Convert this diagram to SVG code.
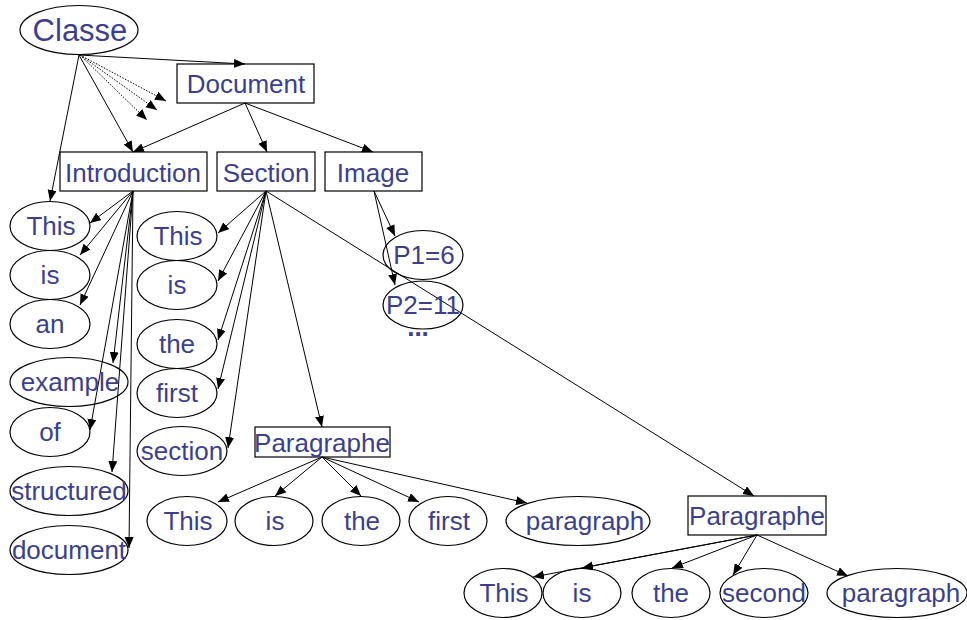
<svg xmlns="http://www.w3.org/2000/svg" width="967" height="620" viewBox="0 0 967 620">
<style>
.n ellipse, .n rect { fill: none; stroke: #000; stroke-width: 1.2; }
.n text { font-family: "Liberation Sans", Arial, sans-serif; font-size: 26px; fill: #3b3f8f; text-anchor: middle; }
#edges line { stroke: #000; stroke-width: 1; marker-end: url(#ah); }
#edges line.dot { stroke-dasharray: 1.5 1.5; }
</style>
<defs>
<marker id="ah" markerUnits="userSpaceOnUse" markerWidth="12" markerHeight="10" refX="11" refY="4.5" orient="auto">
<path d="M0,0 L11,4.5 L0,9 z" fill="#000"/>
</marker>
</defs>
<rect width="967" height="620" fill="#fff"/>
<g id="edges">
<line x1="79" y1="55" x2="245" y2="64"/>
<line x1="79" y1="55" x2="133" y2="152"/>
<line x1="79" y1="55" x2="50" y2="201"/>
<line class="dot" x1="80" y1="55" x2="166" y2="101"/>
<line class="dot" x1="80" y1="55" x2="157" y2="110"/>
<line class="dot" x1="80" y1="55" x2="147" y2="120"/>
<line x1="245" y1="103" x2="133" y2="152"/>
<line x1="245" y1="103" x2="267" y2="152"/>
<line x1="245" y1="103" x2="373" y2="152"/>
<line x1="133" y1="191" x2="90" y2="223"/>
<line x1="133" y1="191" x2="80" y2="255"/>
<line x1="133" y1="191" x2="80" y2="305"/>
<line x1="133" y1="191" x2="113" y2="363"/>
<line x1="133" y1="191" x2="90" y2="430"/>
<line x1="133" y1="191" x2="112" y2="472"/>
<line x1="133" y1="191" x2="129" y2="548"/>
<line x1="266" y1="191" x2="218" y2="233"/>
<line x1="266" y1="191" x2="218" y2="281"/>
<line x1="266" y1="191" x2="218" y2="340"/>
<line x1="266" y1="191" x2="218" y2="389"/>
<line x1="266" y1="191" x2="228" y2="448"/>
<line x1="266" y1="191" x2="322" y2="427"/>
<line x1="266" y1="191" x2="754" y2="496"/>
<line x1="374" y1="191" x2="395" y2="236"/>
<line x1="374" y1="191" x2="395" y2="285"/>
<line x1="322" y1="457" x2="218" y2="502"/>
<line x1="322" y1="457" x2="275" y2="496"/>
<line x1="322" y1="457" x2="361" y2="496"/>
<line x1="322" y1="457" x2="419" y2="502"/>
<line x1="322" y1="457" x2="527" y2="503"/>
<line x1="757" y1="535" x2="533" y2="577"/>
<line x1="757" y1="535" x2="582" y2="568"/>
<line x1="757" y1="535" x2="672" y2="568"/>
<line x1="757" y1="535" x2="733" y2="575"/>
<line x1="757" y1="535" x2="848" y2="576"/>
</g>
<g id="classe" class="n"><ellipse cx="79" cy="30" rx="59" ry="24.5"/><text x="80" y="41" style="font-size:31px">Classe</text></g>
<g id="document" class="n"><rect x="177" y="64" width="137" height="39"/><text x="246" y="93">Document</text></g>
<g id="introduction" class="n"><rect x="60" y="152" width="147" height="39"/><text x="133" y="182">Introduction</text></g>
<g id="section" class="n"><rect x="217" y="152" width="98" height="39"/><text x="266" y="182">Section</text></g>
<g id="image" class="n"><rect x="325" y="152" width="97" height="39"/><text x="373" y="182">Image</text></g>

<g id="i-this" class="n"><ellipse cx="50" cy="226" rx="40" ry="24.5"/><text x="51" y="235">This</text></g>
<g id="i-is" class="n"><ellipse cx="50" cy="275" rx="40" ry="24.5"/><text x="50" y="284">is</text></g>
<g id="i-an" class="n"><ellipse cx="50" cy="324" rx="40" ry="24.5"/><text x="50" y="333">an</text></g>
<g id="i-example" class="n"><ellipse cx="69" cy="382" rx="59" ry="24.5"/><text x="70" y="391">example</text></g>
<g id="i-of" class="n"><ellipse cx="50" cy="432" rx="40" ry="24.5"/><text x="50" y="441">of</text></g>
<g id="i-structured" class="n"><ellipse cx="69" cy="491" rx="59" ry="24.5"/><text x="69" y="500">structured</text></g>
<g id="i-document" class="n"><ellipse cx="69" cy="550" rx="59" ry="24.5"/><text x="69" y="559">document</text></g>

<g id="s-this" class="n"><ellipse cx="177" cy="236" rx="40" ry="24.5"/><text x="178" y="245">This</text></g>
<g id="s-is" class="n"><ellipse cx="177" cy="285" rx="40" ry="24.5"/><text x="177" y="294">is</text></g>
<g id="s-the" class="n"><ellipse cx="177" cy="344" rx="40" ry="24.5"/><text x="177" y="353">the</text></g>
<g id="s-first" class="n"><ellipse cx="177" cy="393" rx="40" ry="24.5"/><text x="177" y="402">first</text></g>
<g id="s-section" class="n"><ellipse cx="182" cy="451" rx="45" ry="24.5"/><text x="182" y="460">section</text></g>

<g id="p1" class="n"><ellipse cx="423" cy="255" rx="40" ry="24.5"/><text x="424" y="264">P1=6</text></g>
<g id="p2" class="n"><ellipse cx="423" cy="305" rx="40" ry="24"/><text x="423" y="314">P2=11</text></g>
<g id="more" class="n"><text x="418" y="336" style="font-weight:bold">...</text></g>

<g id="paragraphe1" class="n"><rect x="255" y="427" width="135" height="30"/><text x="322" y="452">Paragraphe</text></g>
<g id="p1-this" class="n"><ellipse cx="187" cy="521" rx="40" ry="24.5"/><text x="188" y="530">This</text></g>
<g id="p1-is" class="n"><ellipse cx="274" cy="521" rx="39" ry="24.5"/><text x="275" y="530">is</text></g>
<g id="p1-the" class="n"><ellipse cx="361" cy="521" rx="39" ry="24.5"/><text x="362" y="530">the</text></g>
<g id="p1-first" class="n"><ellipse cx="448" cy="521" rx="39" ry="24.5"/><text x="449" y="530">first</text></g>
<g id="p1-paragraph" class="n"><ellipse cx="578" cy="521" rx="72" ry="24.5"/><text x="585" y="530">paragraph</text></g>

<g id="paragraphe2" class="n"><rect x="688" y="496" width="138" height="39"/><text x="757" y="525">Paragraphe</text></g>
<g id="p2-this" class="n"><ellipse cx="503" cy="593" rx="39" ry="24.5"/><text x="504" y="602">This</text></g>
<g id="p2-is" class="n"><ellipse cx="582" cy="593" rx="39" ry="24.5"/><text x="582" y="602">is</text></g>
<g id="p2-the" class="n"><ellipse cx="671" cy="593" rx="39" ry="24.5"/><text x="671" y="602">the</text></g>
<g id="p2-second" class="n"><ellipse cx="764" cy="593" rx="44" ry="24.5"/><text x="764" y="602">second</text></g>
<g id="p2-paragraph" class="n"><ellipse cx="897" cy="593" rx="70" ry="24.5"/><text x="901" y="602">paragraph</text></g>
</svg>
